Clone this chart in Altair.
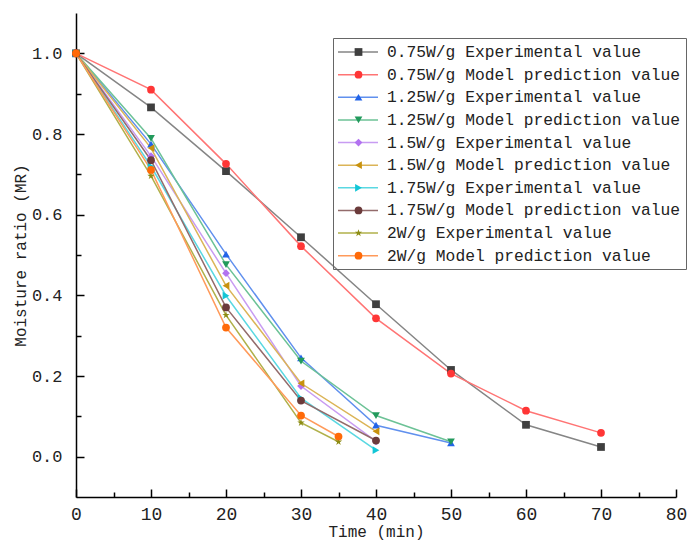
import altair as alt
import pandas as pd

labels = [
    "0.75W/g Experimental value",
    "0.75W/g Model prediction value",
    "1.25W/g Experimental value",
    "1.25W/g Model prediction value",
    "1.5W/g Experimental value",
    "1.5W/g Model prediction value",
    "1.75W/g Experimental value",
    "1.75W/g Model prediction value",
    "2W/g Experimental value",
    "2W/g Model prediction value",
]

t_075 = [0, 10, 20, 30, 40, 50, 60, 70]
t_125 = [0, 10, 20, 30, 40, 50]
t_15 = [0, 10, 20, 30, 40]
t_175 = [0, 10, 20, 30, 40]
t_2 = [0, 10, 20, 30, 35]

exp_075 = [1.0, 0.866, 0.708, 0.544, 0.378, 0.215, 0.079, 0.024]
mod_075 = [1.0, 0.910, 0.726, 0.522, 0.343, 0.206, 0.114, 0.059]
exp_125 = [1.0, 0.775, 0.502, 0.245, 0.078, 0.034]
mod_125 = [1.0, 0.789, 0.476, 0.237, 0.102, 0.037]
exp_15 = [1.0, 0.745, 0.455, 0.175, 0.038]
mod_15 = [1.0, 0.765, 0.424, 0.182, 0.063]
exp_175 = [1.0, 0.720, 0.399, 0.145, 0.016]
mod_175 = [1.0, 0.735, 0.370, 0.139, 0.040]
exp_2 = [1.0, 0.696, 0.351, 0.084, 0.037]
mod_2 = [1.0, 0.711, 0.320, 0.102, 0.050]

series_t = [t_075, t_075, t_125, t_125, t_15, t_15, t_175, t_175, t_2, t_2]
series_v = [exp_075, mod_075, exp_125, mod_125, exp_15, mod_15, exp_175, mod_175, exp_2, mod_2]

marker_colors = ["#3f3f3f", "#ff3636", "#2264e8", "#229a5c", "#b272f0",
                 "#c8920e", "#12c6d6", "#6b3b3b", "#8c8c14", "#ff6a08"]
line_colors = ["#858585", "#ff7474", "#6090ee", "#6cc296", "#c89cf2",
               "#dbb457", "#5ad8e2", "#936b6b", "#b0b04a", "#ff9a5a"]
STAR = "M0,-1L0.2245,-0.309L0.951,-0.309L0.363,0.118L0.588,0.809L0,0.382L-0.588,0.809L-0.363,0.118L-0.951,-0.309L-0.2245,-0.309Z"
shapes = ["square", "circle", "triangle-up", "triangle-down", "diamond",
          "triangle-left", "triangle-right", "circle", STAR, "circle"]

x_major = [0, 10, 20, 30, 40, 50, 60, 70, 80]
x_minor = [5, 15, 25, 35, 45, 55, 65, 75]
y_major = [0.0, 0.2, 0.4, 0.6, 0.8, 1.0]
y_minor = [0.1, 0.3, 0.5, 0.7, 0.9]

rows = []
for lab, ts, vs in zip(labels, series_t, series_v):
    for t, v in zip(ts, vs):
        rows.append({"t": t, "mr": v, "series": lab})
df = pd.DataFrame(rows)

FONT = "Liberation Mono"
W, H = 600, 484
LX, LY = 257, 25
LFS = 16.3
RP = 4.63
xscale = alt.Scale(domain=[0, 80], nice=False, zero=False)
yscale = alt.Scale(domain=[-0.1, 1.1], nice=False, zero=False)

base = alt.Chart(df)

lines = base.mark_line(strokeWidth=1.5).encode(
    x=alt.X("t:Q", scale=xscale, axis=alt.Axis(
        orient="bottom", values=x_major, ticks=False, tickSize=0, grid=False,
        labelFlush=False,
        domainColor="black", domainWidth=1.5, labelFont=FONT, labelFontSize=18,
        labelColor="#222", labelPadding=8, title="Time (min)", titleFont=FONT,
        titleFontSize=16, titleFontWeight="normal", titleColor="#222", titlePadding=0)),
    y=alt.Y("mr:Q", scale=yscale, axis=alt.Axis(
        orient="left", values=y_major, format=".1f", ticks=False, tickSize=0, grid=False,
        labelFlush=False,
        domainColor="black", domainWidth=1.5, labelFont=FONT, labelFontSize=17,
        labelColor="#222", labelPadding=14, title="Moisture ratio (MR)", titleFont=FONT,
        titleFontSize=16, titleFontWeight="normal", titleColor="#222", titlePadding=3)),
    color=alt.Color("series:N", sort=labels, scale=alt.Scale(range=line_colors),
                    legend=alt.Legend(
                        orient="none", legendX=LX, legendY=LY, title=None,
                        symbolType="M-2.5,0L2.5,0", symbolSize=256, symbolStrokeWidth=1.5,
                        symbolOffset=11, labelOffset=20,
                        labelFont=FONT, labelFontSize=LFS, labelColor="#222", labelLimit=600,
                        rowPadding=RP, padding=5, strokeColor="#666")),
)

mk_legend = alt.Legend(
    orient="none", legendX=LX, legendY=LY, title=None,
    symbolSize=60, symbolStrokeWidth=0, symbolOffset=11.5, labelOffset=2,
    labelExpr="' '", labelFont=FONT, labelFontSize=18, labelOpacity=0, labelLimit=600,
    rowPadding=RP, padding=5)

points = base.mark_point(filled=True, size=60, opacity=1).encode(
    x=alt.X("t:Q", scale=xscale, axis=alt.Axis(
        orient="top", offset=-H, values=x_major, labels=False, domain=False, grid=False,
        tickSize=8, tickWidth=1.5, tickColor="black", title=None)),
    y=alt.Y("mr:Q", scale=yscale, axis=alt.Axis(
        orient="right", offset=-W, values=y_major, labels=False, domain=False, grid=False,
        tickSize=8, tickWidth=1.5, tickColor="black", title=None)),
    fill=alt.Fill("series:N", scale=alt.Scale(domain=labels, range=marker_colors),
                  legend=mk_legend),
    shape=alt.Shape("series:N", scale=alt.Scale(domain=labels, range=shapes),
                    legend=mk_legend),
)

minor = base.mark_line(opacity=0).encode(
    x=alt.X("t:Q", scale=xscale, axis=alt.Axis(
        orient="top", offset=-H, values=x_minor, labels=False, domain=False, grid=False,
        tickSize=5, tickWidth=1.5, tickColor="black", title=None)),
    y=alt.Y("mr:Q", scale=yscale, axis=alt.Axis(
        orient="right", offset=-W, values=y_minor, labels=False, domain=False, grid=False,
        tickSize=5, tickWidth=1.5, tickColor="black", title=None)),
    detail="series:N",
)

chart = alt.layer(lines, points, minor).resolve_axis(
    x="independent", y="independent"
).properties(
    width=W, height=H,
    autosize=alt.AutoSizeParams(type="none"),
    padding={"left": 68, "top": 5, "right": 14, "bottom": 46},
    background="white",
).configure_view(strokeWidth=0)

chart.save("out.html", embed_options={"renderer": "svg", "actions": False})
